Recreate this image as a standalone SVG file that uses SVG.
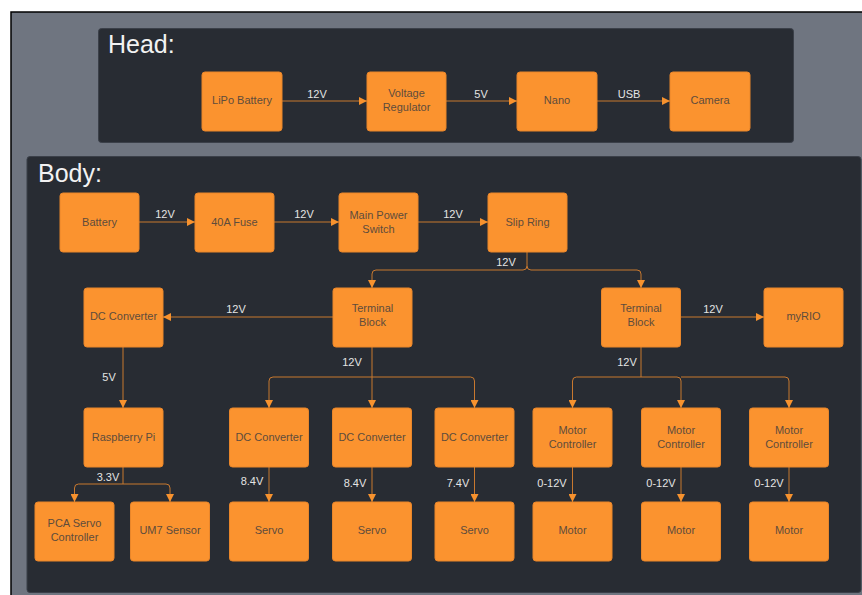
<svg xmlns="http://www.w3.org/2000/svg" width="862" height="595" viewBox="0 0 862 595">
<defs>
<style>
.panel{fill:#282c33;stroke:#3b4049;stroke-width:1}
.node rect{fill:#fb932f;stroke:#e9862a;stroke-width:1}
.node text{font-family:"Liberation Sans",Arial,sans-serif;font-size:11px;fill:#5e4c3c;text-anchor:middle}
.title{font-family:"Liberation Sans",Arial,sans-serif;font-size:25px;fill:#f2f2f2}
.lbl{font-family:"Liberation Sans",Arial,sans-serif;font-size:11px;fill:#e4e4e4;text-anchor:middle}
.c{fill:none;stroke:#c7782f;stroke-width:1}
.a{marker-end:url(#ah)}
</style>
<marker id="ah" viewBox="0 0 10 10" refX="10" refY="5" markerWidth="8" markerHeight="8" markerUnits="userSpaceOnUse" orient="auto">
<path d="M0,0 L10,5 L0,10 z" fill="#f7922e"/>
</marker>
</defs>
<rect x="0" y="0" width="862" height="595" fill="#ffffff"/>
<rect x="11" y="12" width="860" height="600" fill="#6f7580" stroke="#000" stroke-width="1.5"/>
<rect class="panel" x="98.5" y="28.5" width="695" height="114" rx="3"/>
<rect class="panel" x="27" y="156.5" width="834" height="436" rx="3"/>
<text class="title" x="108" y="53">Head:</text>
<text class="title" x="38" y="182">Body:</text>

<g id="connectors">
<path class="c a" d="M282,101 H367"/>
<path class="c a" d="M446,101 H517"/>
<path class="c a" d="M597,101 H670"/>
<path class="c a" d="M139,222 H195"/>
<path class="c a" d="M274,222 H339"/>
<path class="c a" d="M418,222 H488"/>
<path class="c a" d="M527,252 V266 Q527,270 523,270 H376 Q372,270 372,274 V288"/>
<path class="c a" d="M527,266 Q527,270 531,270 H637 Q641,270 641,274 V288"/>
<path class="c a" d="M333,317 H163"/>
<path class="c a" d="M681,317 H764"/>
<path class="c a" d="M123,347 V408"/>
<path class="c a" d="M372,347 V408"/>
<path class="c a" d="M372,377 H273 Q269,377 269,381 V408"/>
<path class="c a" d="M372,377 H470.5 Q474.5,377 474.5,381 V408"/>
<path class="c a" d="M641,347 V377 H576.5 Q572.5,377 572.5,381 V408"/>
<path class="c a" d="M641,377 H677 Q681,377 681,381 V408"/>
<path class="c a" d="M681,377 H785 Q789,377 789,381 V408"/>
<path class="c" d="M123,467 V484"/>
<path class="c a" d="M123,484 H78.5 Q74.5,484 74.5,488 V502"/>
<path class="c a" d="M123,484 H166 Q170,484 170,488 V502"/>
<path class="c a" d="M269,467 V502"/>
<path class="c a" d="M372,467 V502"/>
<path class="c a" d="M474.5,467 V502"/>
<path class="c a" d="M572.5,467 V502"/>
<path class="c a" d="M681,467 V502"/>
<path class="c a" d="M789,467 V502"/>
</g>

<g id="labels">
<text class="lbl" x="317" y="98">12V</text>
<text class="lbl" x="481" y="98">5V</text>
<text class="lbl" x="629" y="98">USB</text>
<text class="lbl" x="165" y="218">12V</text>
<text class="lbl" x="304" y="218">12V</text>
<text class="lbl" x="453" y="218">12V</text>
<text class="lbl" x="506" y="266">12V</text>
<text class="lbl" x="236" y="313">12V</text>
<text class="lbl" x="352" y="366">12V</text>
<text class="lbl" x="109" y="381">5V</text>
<text class="lbl" x="713" y="313">12V</text>
<text class="lbl" x="627" y="366">12V</text>
<text class="lbl" x="108" y="481">3.3V</text>
<text class="lbl" x="252" y="485">8.4V</text>
<text class="lbl" x="355" y="487">8.4V</text>
<text class="lbl" x="458" y="487">7.4V</text>
<text class="lbl" x="552" y="487">0-12V</text>
<text class="lbl" x="661" y="487">0-12V</text>
<text class="lbl" x="769" y="487">0-12V</text>
</g>

<g id="lipo" class="node"><rect x="202" y="72" width="80" height="59" rx="3"/><text x="242" y="104">LiPo Battery</text></g>
<g id="vreg" class="node"><rect x="367" y="72" width="79" height="59" rx="3"/><text x="406.5" y="96.5">Voltage</text><text x="406.5" y="110.5">Regulator</text></g>
<g id="nano" class="node"><rect x="517" y="72" width="80" height="59" rx="3"/><text x="557" y="104">Nano</text></g>
<g id="camera" class="node"><rect x="670" y="72" width="80" height="59" rx="3"/><text x="710" y="104">Camera</text></g>

<g id="battery" class="node"><rect x="60" y="193" width="79" height="59" rx="3"/><text x="99.5" y="226">Battery</text></g>
<g id="fuse" class="node"><rect x="195" y="193" width="79" height="59" rx="3"/><text x="234.5" y="226">40A Fuse</text></g>
<g id="mps" class="node"><rect x="339" y="193" width="79" height="59" rx="3"/><text x="378.5" y="219">Main Power</text><text x="378.5" y="233">Switch</text></g>
<g id="slip" class="node"><rect x="488" y="193" width="79" height="59" rx="3"/><text x="527.5" y="226">Slip Ring</text></g>

<g id="dc1" class="node"><rect x="84" y="288" width="79" height="59" rx="3"/><text x="123.5" y="320">DC Converter</text></g>
<g id="tb1" class="node"><rect x="333" y="288" width="79" height="59" rx="3"/><text x="372.5" y="312">Terminal</text><text x="372.5" y="326">Block</text></g>
<g id="tb2" class="node"><rect x="601.5" y="288" width="79" height="59" rx="3"/><text x="641" y="312">Terminal</text><text x="641" y="326">Block</text></g>
<g id="myrio" class="node"><rect x="764" y="288" width="79" height="59" rx="3"/><text x="803.5" y="320">myRIO</text></g>

<g id="rpi" class="node"><rect x="84" y="408" width="79" height="59" rx="3"/><text x="123.5" y="441">Raspberry Pi</text></g>
<g id="dc2" class="node"><rect x="229.5" y="408" width="79" height="59" rx="3"/><text x="269" y="441">DC Converter</text></g>
<g id="dc3" class="node"><rect x="332.5" y="408" width="79" height="59" rx="3"/><text x="372" y="441">DC Converter</text></g>
<g id="dc4" class="node"><rect x="435" y="408" width="79" height="59" rx="3"/><text x="474.5" y="441">DC Converter</text></g>
<g id="mc1" class="node"><rect x="533" y="408" width="79" height="59" rx="3"/><text x="572.5" y="434">Motor</text><text x="572.5" y="448">Controller</text></g>
<g id="mc2" class="node"><rect x="641.5" y="408" width="79" height="59" rx="3"/><text x="681" y="434">Motor</text><text x="681" y="448">Controller</text></g>
<g id="mc3" class="node"><rect x="749.5" y="408" width="79" height="59" rx="3"/><text x="789" y="434">Motor</text><text x="789" y="448">Controller</text></g>

<g id="pca" class="node"><rect x="35" y="502" width="79" height="59" rx="3"/><text x="74.5" y="527">PCA Servo</text><text x="74.5" y="541">Controller</text></g>
<g id="um7" class="node"><rect x="130.5" y="502" width="79" height="59" rx="3"/><text x="170" y="534">UM7 Sensor</text></g>
<g id="servo1" class="node"><rect x="229.5" y="502" width="79" height="59" rx="3"/><text x="269" y="534">Servo</text></g>
<g id="servo2" class="node"><rect x="332.5" y="502" width="79" height="59" rx="3"/><text x="372" y="534">Servo</text></g>
<g id="servo3" class="node"><rect x="435" y="502" width="79" height="59" rx="3"/><text x="474.5" y="534">Servo</text></g>
<g id="motor1" class="node"><rect x="533" y="502" width="79" height="59" rx="3"/><text x="572.5" y="534">Motor</text></g>
<g id="motor2" class="node"><rect x="641.5" y="502" width="79" height="59" rx="3"/><text x="681" y="534">Motor</text></g>
<g id="motor3" class="node"><rect x="749.5" y="502" width="79" height="59" rx="3"/><text x="789" y="534">Motor</text></g>
</svg>
